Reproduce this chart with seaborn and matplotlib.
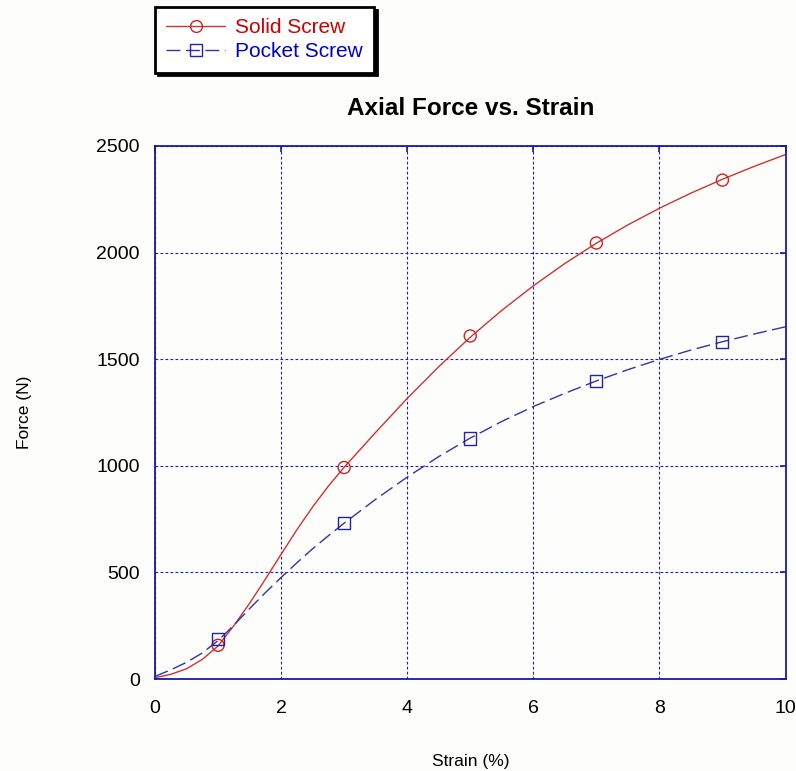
import pandas as pd
import seaborn as sns
import matplotlib.pyplot as plt
from matplotlib.lines import Line2D

# values
strain = [0, 0.25, 0.5, 0.75, 1, 1.25, 1.5, 1.75, 2, 2.25, 2.5, 2.75, 3, 3.5, 4, 4.5,
          5, 5.5, 6, 6.5, 7, 7.5, 8, 8.5, 9, 9.5, 10]
solid_force = [6, 22, 48, 92, 155, 250, 355, 468, 585, 700, 807, 905, 993, 1157, 1316, 1465,
               1603, 1729, 1844, 1949, 2044, 2130, 2208, 2279, 2344, 2404, 2460]
pocket_force = [12, 43, 78, 122, 180, 252, 330, 405, 476, 545, 611, 672, 731, 843, 947, 1043,
                1130, 1208, 1278, 1340, 1398, 1451, 1499, 1543, 1582, 1618, 1652]

marker_strain = [1, 3, 5, 7, 9]
solid_marker = [158, 992, 1609, 2045, 2340]
pocket_marker = [186, 731, 1128, 1398, 1582]

x_ticks = [0, 2, 4, 6, 8, 10]
y_ticks = [0, 500, 1000, 1500, 2000, 2500]

sns.set_theme(style="white")
plt.rcParams["font.family"] = ["Liberation Sans", "DejaVu Sans"]
plt.rcParams["text.color"] = "black"
plt.rcParams["axes.labelcolor"] = "black"

RED = "#cc3333"
BLUE = "#3333aa"
FRAME = "#1a1aa0"
BG = "#fdfdfb"

curves = pd.DataFrame({"strain": strain, "solid": solid_force, "pocket": pocket_force})
marks = pd.DataFrame({"strain": marker_strain, "solid": solid_marker, "pocket": pocket_marker})

fig = plt.figure(figsize=(7.96, 7.71), dpi=100, facecolor=BG)
ax = fig.add_axes([155 / 796, 1 - 679 / 771, 630.5 / 796, 533 / 771])
ax.set_facecolor(BG)

sns.lineplot(data=curves, x="strain", y="solid", ax=ax, color=RED, lw=1.0)
sns.lineplot(data=curves, x="strain", y="pocket", ax=ax, color=BLUE, lw=1.0)
ax.lines[-1].set_dashes((10, 4))
sns.scatterplot(data=marks, x="strain", y="solid", ax=ax, marker="o", s=75,
                facecolor="none", edgecolor="#cc2222", linewidth=1.0, zorder=4)
sns.scatterplot(data=marks, x="strain", y="pocket", ax=ax, marker="s", s=75,
                facecolor="none", edgecolor="#2222aa", linewidth=1.0, zorder=4)

ax.set_xlim(0, 10)
ax.set_ylim(0, 2500)
ax.set_xticks(x_ticks)
ax.set_yticks(y_ticks)
ax.grid(True, color="#2020b0", linestyle=(0, (2.5, 2)), linewidth=0.8)
for s in ax.spines.values():
    s.set_color(FRAME)
    s.set_linewidth(1.3)
ax.tick_params(direction="in", length=4.5, width=1.2, color=FRAME,
               top=True, right=True, labelsize=14, labelcolor="black")
ax.tick_params(axis="y", pad=11)
ax.tick_params(axis="x", pad=15)

ax.set_xlabel("Strain (%)", fontsize=12.5, labelpad=27)
ax.set_ylabel("Force (N)", fontsize=12.5, labelpad=46)
ax.set_title("Axial Force vs. Strain", fontsize=17.5, fontweight="bold", pad=22,
             color="black")

handles = [
    Line2D([], [], color=RED, lw=1.0, marker="o", markersize=8.5,
           markerfacecolor="none", markeredgecolor="#cc2222"),
    Line2D([], [], color=BLUE, lw=1.0, dashes=(10, 4), marker="s", markersize=8.5,
           markerfacecolor="none", markeredgecolor="#2222aa"),
]
leg = fig.legend(handles, ["Solid Screw", "Pocket Screw"], loc="upper left",
                 bbox_to_anchor=(155 / 796, 1 - 7 / 771), borderaxespad=0,
                 fontsize=15, numpoints=1, handlelength=2.8, handletextpad=0.5,
                 labelspacing=0.22, borderpad=0.55, fancybox=False,
                 shadow={"color": "black", "alpha": 1.0},
                 framealpha=1.0, facecolor="white", edgecolor="black")
leg.get_frame().set_linewidth(2.0)
for txt, c in zip(leg.get_texts(), ["#cc0000", "#0000cc"]):
    txt.set_color(c)

fig.savefig("out.png", dpi=100, facecolor=BG)
